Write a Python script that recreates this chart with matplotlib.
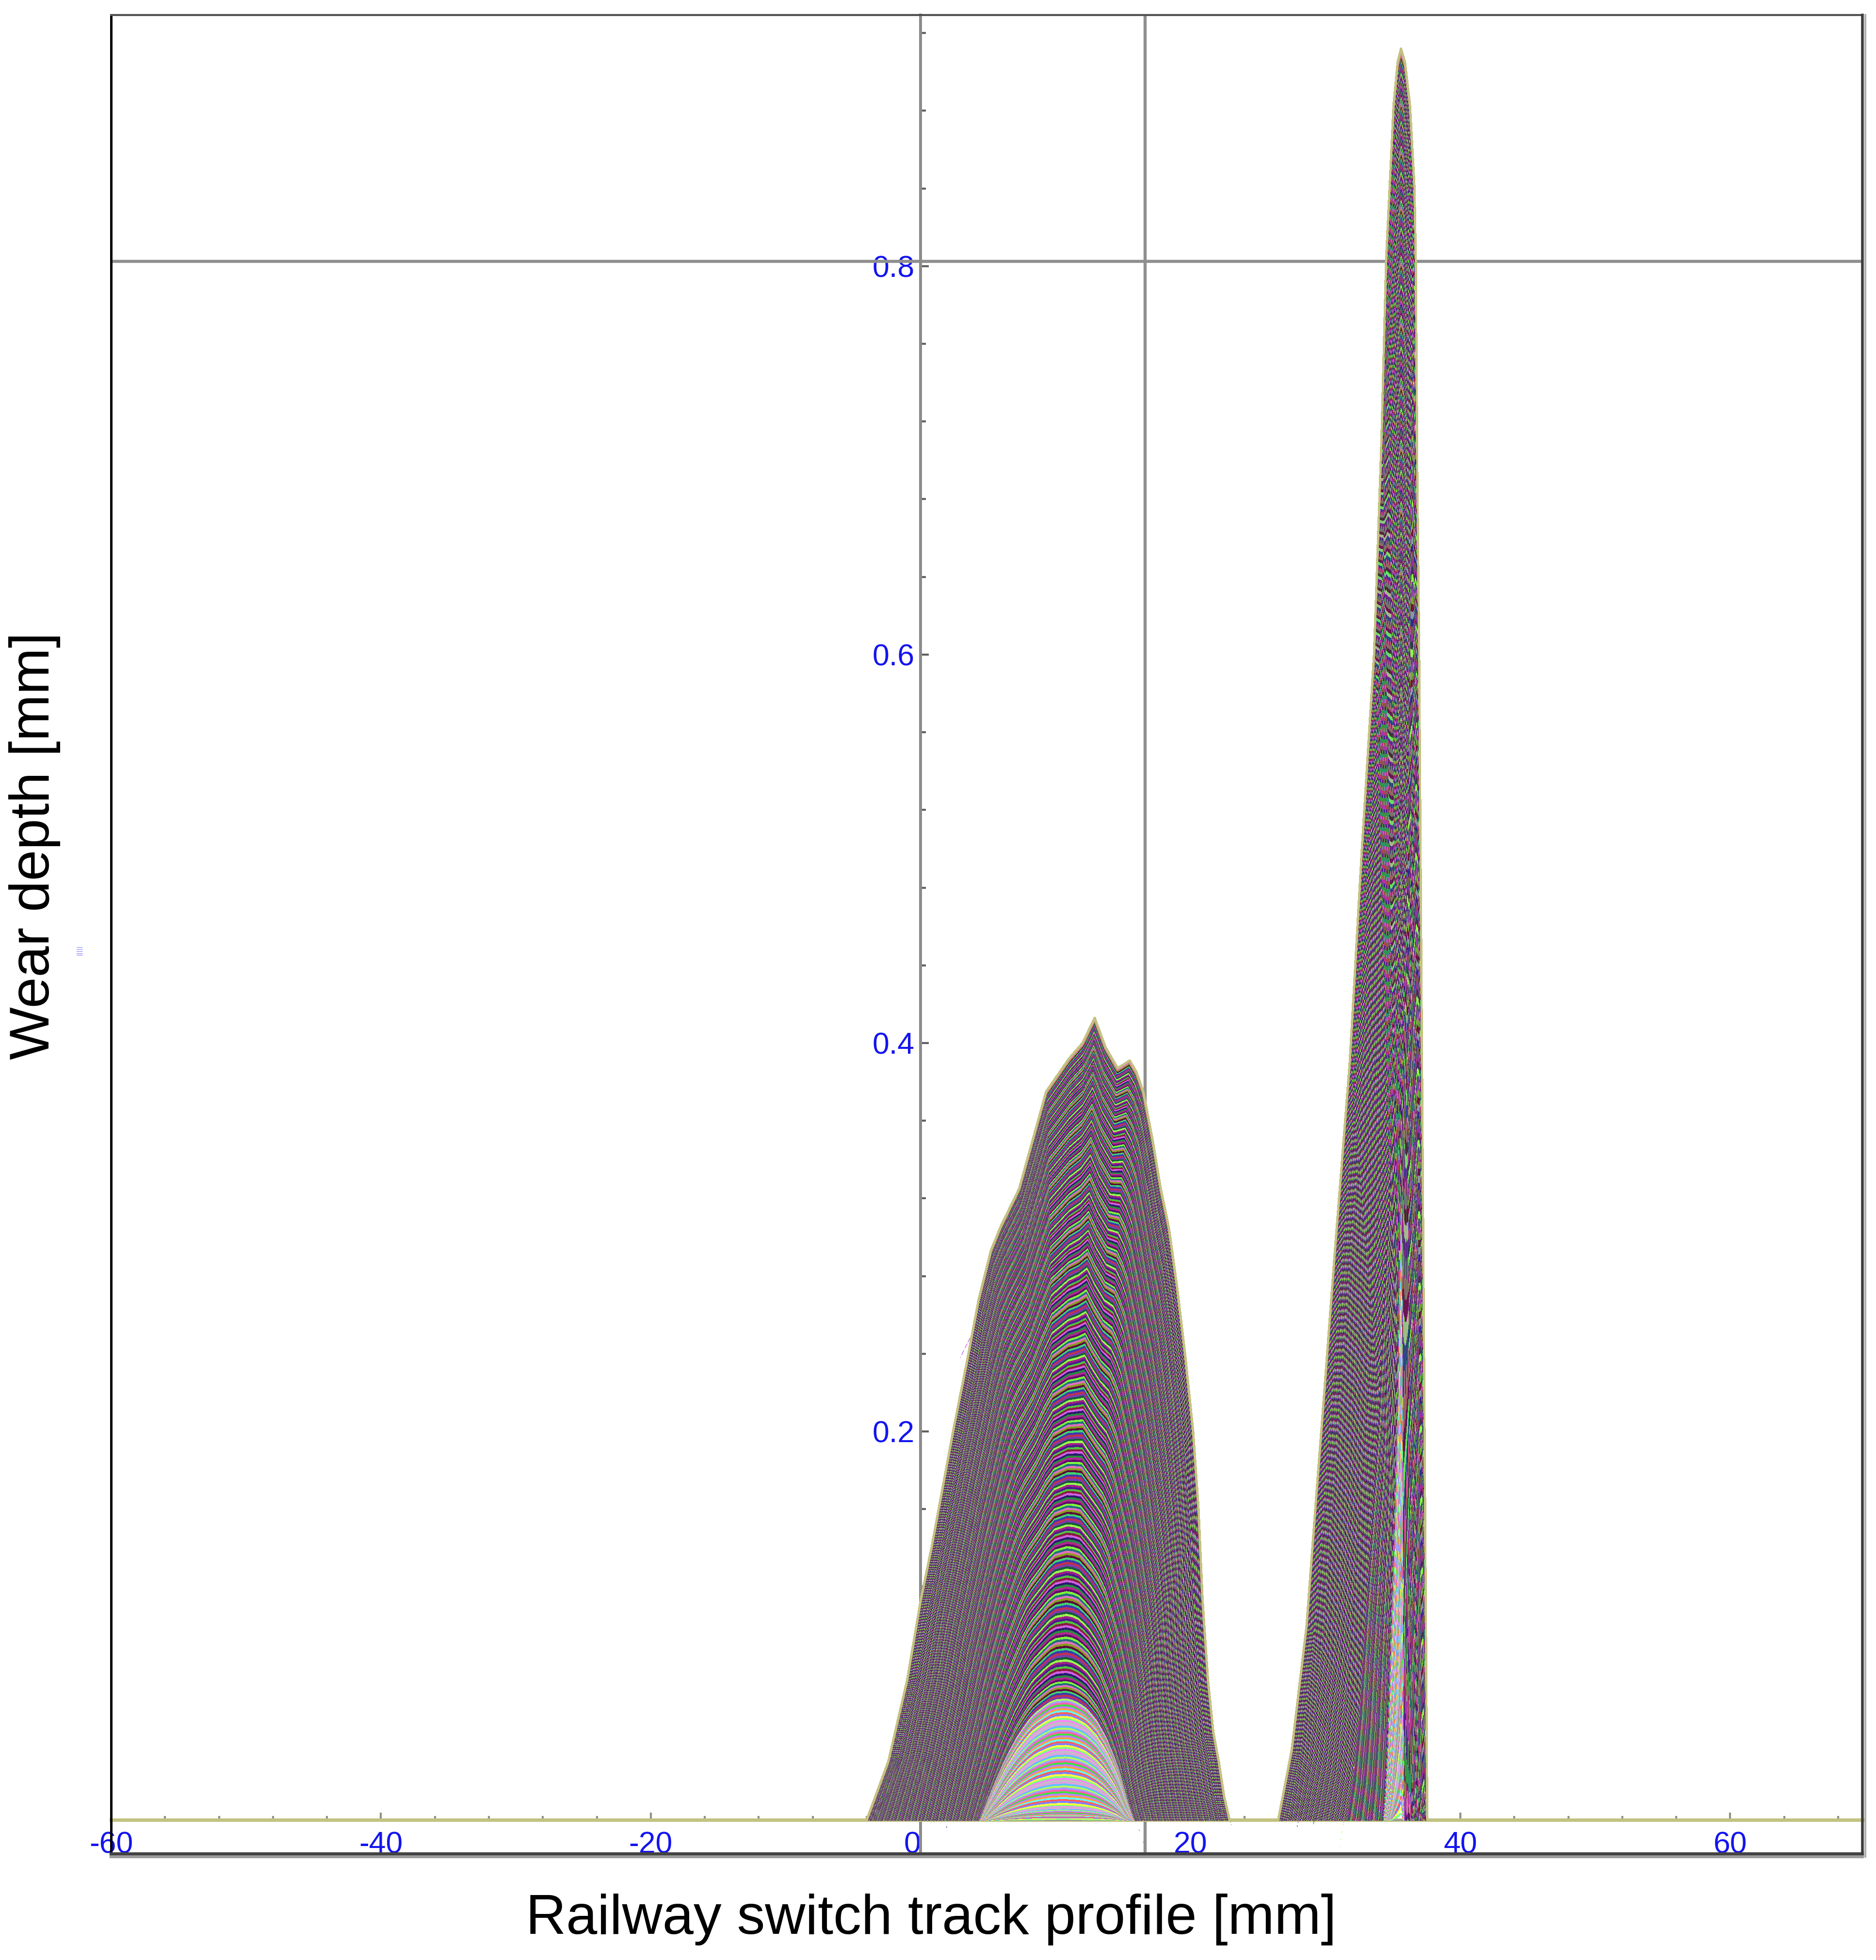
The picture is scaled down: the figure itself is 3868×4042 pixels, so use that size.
import numpy as np
import matplotlib
matplotlib.use("Agg")
import matplotlib.pyplot as plt
from matplotlib.collections import LineCollection
from matplotlib.ticker import MultipleLocator

plt.rcParams["path.simplify"] = False

# ---------------- data ----------------
# final (outermost) wear profile of the left contact zone [mm]
left_x = [-4.0, -2.4, -1.0, 0.0, 0.8, 1.6, 2.4, 3.4, 4.3, 5.2, 5.9, 7.3, 8.3, 9.3,
          11.0, 12.0, 12.9, 13.7, 14.6, 15.5, 16.0, 16.5, 17.2, 17.8, 18.4, 19.0,
          19.6, 20.2, 20.6, 20.9, 21.3, 21.7, 22.1, 22.5, 22.9]
left_y = [0.0, 0.030, 0.072, 0.113, 0.140, 0.170, 0.200, 0.235, 0.268, 0.293, 0.305,
          0.325, 0.350, 0.375, 0.392, 0.400, 0.413, 0.398, 0.387, 0.391, 0.385, 0.375,
          0.350, 0.325, 0.305, 0.275, 0.240, 0.200, 0.160, 0.113, 0.072, 0.045, 0.030,
          0.012, 0.0]
# shape of the early (small) wear arches of the left zone, relative depth
left_early = [0.0, 0.20, 0.36, 0.47, 0.55, 0.62, 0.69, 0.76, 0.82, 0.87, 0.90, 0.95,
              0.98, 0.995, 1.0, 0.99, 0.97, 0.95, 0.92, 0.87, 0.84, 0.81, 0.75, 0.70,
              0.64, 0.57, 0.50, 0.42, 0.36, 0.31, 0.24, 0.17, 0.11, 0.05, 0.0]
# final wear profile of the right contact zone [mm]
right_x = [26.5, 27.5, 28.6, 29.3, 29.8, 30.7, 31.8, 32.7, 33.6, 34.15, 34.5, 34.76,
           35.05, 35.35, 35.6, 35.9, 36.27, 36.6, 36.7, 36.8, 36.95, 37.05, 37.15,
           37.25, 37.35, 37.45, 37.55]
right_y = [0.0, 0.036, 0.100, 0.165, 0.210, 0.293, 0.390, 0.500, 0.600, 0.710, 0.804,
           0.841, 0.883, 0.905, 0.912, 0.905, 0.883, 0.841, 0.804, 0.700, 0.600, 0.500,
           0.400, 0.300, 0.200, 0.100, 0.0]

# key stages of the wear growth (fraction of simulation, peak depth, relative width,
# share of the final shape)
stage_s = [0.0, 0.04, 0.20, 0.35, 0.50, 0.65, 0.80, 0.90, 1.0]
left_depth = [0.0, 0.008, 0.075, 0.150, 0.220, 0.290, 0.350, 0.385, 0.413]
left_width = [0.40, 0.40, 0.44, 0.55, 0.66, 0.77, 0.88, 0.95, 1.0]
left_mix = [0.0, 0.0, 0.05, 0.25, 0.45, 0.65, 0.82, 0.93, 1.0]
right_depth = [0.0, 0.050, 0.390, 0.500, 0.600, 0.700, 0.800, 0.860, 0.912]
right_width = [0.10, 0.11, 0.16, 0.45, 0.58, 0.72, 0.85, 0.93, 1.0]
left_center = 10.6
right_center = 35.6
n_curves = 420
early_fraction = 0.17

x_ticks = [-60, -40, -20, 0, 20, 40, 60]
x_tick_labels = ["-60", "-40", "-20", "0", "20", "40", "60"]
y_ticks = [0.2, 0.4, 0.6, 0.8]
y_tick_labels = ["0.2", "0.4", "0.6", "0.8"]
cursor_x = 16.64
cursor_y = 0.8025

early_colors = ["#ff80ff", "#80ff80", "#ffff40", "#8080ff", "#ff6060", "#60ffff",
                "#ff9f40", "#c080ff", "#40e040", "#ff60b0", "#a0a0ff", "#b0ff60",
                "#60c0ff", "#e0a0e0", "#c0c0c0"]
main_colors = ["#7cfc3c", "#600a6a", "#b02890", "#2a8a40", "#2a1a70",
               "#d060e0", "#8a1a40", "#50c040", "#4a1a8a", "#a0208a",
               "#9aff50", "#1a5a3a", "#7a3ab0", "#c03050", "#3a3ab0",
               "#40d070", "#5a0a3a", "#8a9a20", "#e070c0", "#20707a"]
first_color = "#9a9a9a"
last_color = "#c4c282"

# ---------------- figure ----------------
W, H = 3868, 4042
fig = plt.figure(figsize=(W / 100, H / 100), dpi=100, facecolor="white")
ax = fig.add_axes([229 / W, (H - 3823) / H, 3611 / W, 3792 / H])
ax.set_xlim(-60, 69.8)
ax.set_ylim(-0.01748, 0.9293)
ax.set_facecolor("white")

xs = np.linspace(-60, 70, 5201)
lmax = max(left_y)
rmax = max(right_y)
segs, cols = [], []
for k in range(n_curves):
    s = k / (n_curves - 1)
    dl = np.interp(s, stage_s, left_depth)
    wl = np.interp(s, stage_s, left_width)
    ml = np.interp(s, stage_s, left_mix)
    dr = np.interp(s, stage_s, right_depth)
    wr = np.interp(s, stage_s, right_width)
    u = left_center + (xs - left_center) / wl
    shape_l = (ml * np.interp(u, left_x, left_y, left=0.0, right=0.0) / lmax
               + (1 - ml) * np.interp(u, left_x, left_early, left=0.0, right=0.0))
    yl = dl * shape_l
    yr = dr / rmax * np.interp(right_center + (xs - right_center) / wr, right_x, right_y,
                               left=0.0, right=0.0)
    segs.append(np.column_stack([xs, yl + yr]))
    if k == 0:
        cols.append(first_color)
    elif k == n_curves - 1:
        cols.append(last_color)
    elif s < early_fraction:
        cols.append(early_colors[k % len(early_colors)])
    else:
        cols.append(main_colors[k % len(main_colors)])

lc = LineCollection(segs, colors=cols, linewidths=2.6, zorder=3, antialiaseds=False,
                    joinstyle="round", capstyle="butt")
ax.add_collection(lc)

# cursor lines
ax.axvline(cursor_x, color="#8f8f8f", lw=4.6, zorder=2)
ax.axhline(cursor_y, color="#8f8f8f", lw=4.6, zorder=2)

# axes crossing at the origin
for side in ["top", "right"]:
    ax.spines[side].set_visible(False)
ax.spines["left"].set_position(("data", 0))
ax.spines["left"].set_color("#8c8c8c")
ax.spines["left"].set_linewidth(4.3)
ax.spines["left"].set_zorder(2)
ax.spines["bottom"].set_position(("data", 0))
ax.spines["bottom"].set_color("#c0bf7c")
ax.spines["bottom"].set_linewidth(5.0)
ax.spines["bottom"].set_zorder(2)

tick_font = dict(family=["Liberation Sans", "DejaVu Sans"], size=45, color="#1414f0")
ax.set_xticks(x_ticks)
ax.set_xticklabels(x_tick_labels, **tick_font)
ax.xaxis.set_minor_locator(MultipleLocator(4))
ax.set_yticks(y_ticks)
ax.set_yticklabels(y_tick_labels, **tick_font)
ax.yaxis.set_minor_locator(MultipleLocator(0.04))
ax.tick_params(axis="x", which="major", direction="in", length=11, width=3,
               color="#909080", pad=16)
ax.tick_params(axis="x", which="minor", direction="in", length=6, width=3,
               color="#909080")
ax.tick_params(axis="y", which="major", direction="in", length=12, width=3,
               color="#606060", pad=9)
ax.tick_params(axis="y", which="minor", direction="in", length=8, width=3,
               color="#606060")
for lab in ax.get_xticklabels():
    if lab.get_text() == "0":
        lab.set_horizontalalignment("right")

# outer frame
ax.plot([0, 0], [0, 1], transform=ax.transAxes, color="black", lw=3.6,
        clip_on=False, zorder=6)
ax.plot([0, 1], [1, 1], transform=ax.transAxes, color="#505050", lw=3.0,
        clip_on=False, zorder=6)
ax.plot([0, 1], [-0.0016, -0.0016], transform=ax.transAxes, color="#9a9a9a", lw=4.5,
        clip_on=False, zorder=5)
ax.plot([0, 1], [0, 0], transform=ax.transAxes, color="#424242", lw=4.5,
        clip_on=False, zorder=6)
ax.plot([1.0016, 1.0016], [-0.0016, 1], transform=ax.transAxes, color="#b0b0b0",
        lw=3.0, clip_on=False, zorder=5)
ax.plot([1, 1], [0, 1], transform=ax.transAxes, color="#3c3c3c", lw=4.0,
        clip_on=False, zorder=6)

# axis titles
title_font = dict(family=["Liberation Sans", "DejaVu Sans"], size=83, color="black")
fig.text(1920 / W, 1 - 3958 / H, "Railway switch track profile [mm]",
         ha="center", va="center", **title_font)
fig.text(72 / W, 1 - 1744 / H, "Wear depth [mm]", rotation=90,
         ha="center", va="center", **title_font)
fig.text(163 / W, 1 - 1959 / H, "|||||", rotation=90, ha="center", va="center",
         family="DejaVu Sans", size=9, color="#7070ff")

fig.savefig("out.png", dpi=100, facecolor="white")
